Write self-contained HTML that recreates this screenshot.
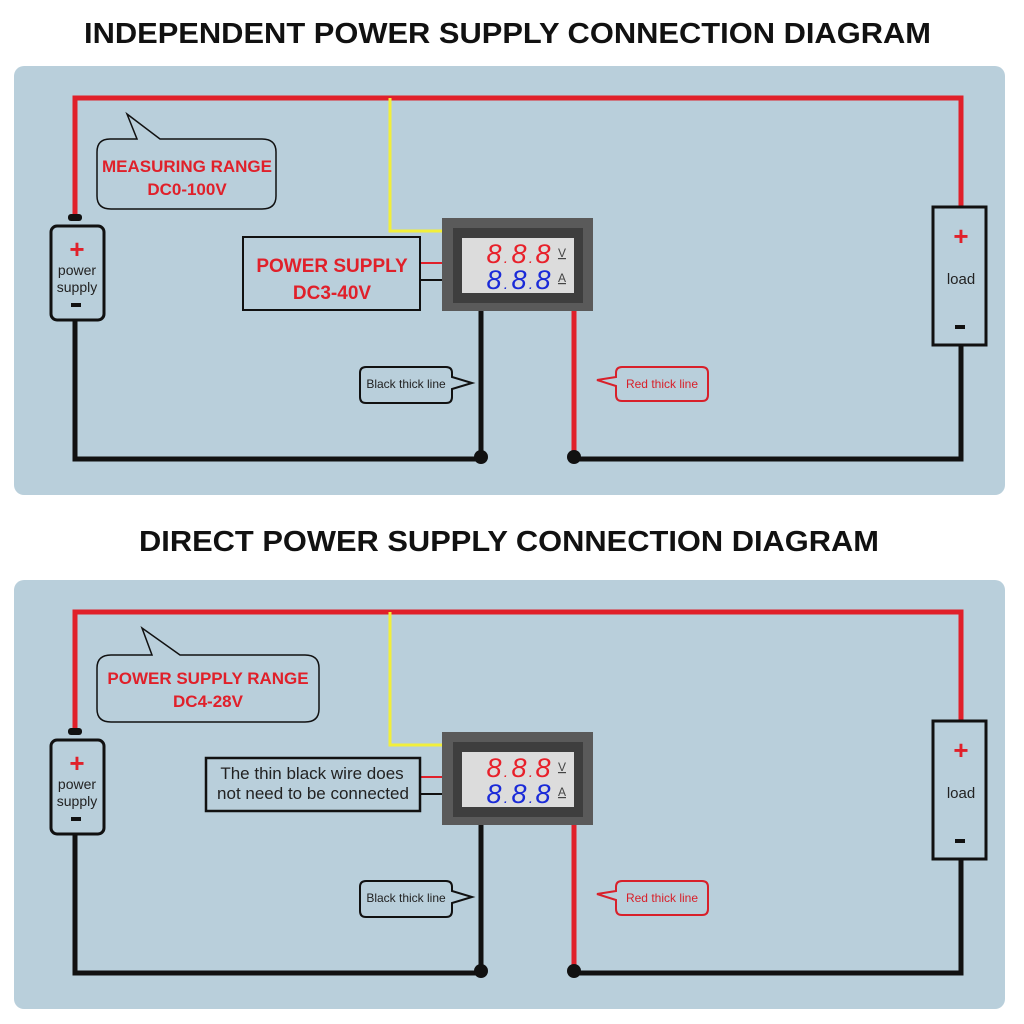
<!DOCTYPE html>
<html><head><meta charset="utf-8"><style>
html,body{margin:0;padding:0;background:#fff;}
svg{display:block;font-family:"Liberation Sans",Arial,sans-serif;}
</style></head><body>
<svg width="1024" height="1024" viewBox="0 0 1024 1024" xmlns="http://www.w3.org/2000/svg">
<defs>
<g id="panel">
  <rect x="14" y="66" width="991" height="429" rx="10" fill="#b9cfdb"/>
  <polyline points="75,218 75,98 961,98 961,207" fill="none" stroke="#e0202a" stroke-width="5"/>
  <polyline points="390,98 390,231 443,231" fill="none" stroke="#f2ef3a" stroke-width="3"/>
  <polyline points="75,321 75,459 481,459 481,311" fill="none" stroke="#111" stroke-width="5"/>
  <line x1="574" y1="311" x2="574" y2="457" stroke="#e0202a" stroke-width="5"/>
  <polyline points="574,459 961,459 961,345" fill="none" stroke="#111" stroke-width="5"/>
  <circle cx="481" cy="457" r="7" fill="#111"/>
  <circle cx="574" cy="457" r="7" fill="#111"/>
  <rect x="68" y="214" width="14" height="7" rx="3" fill="#111"/>
  <rect x="51" y="226" width="53" height="94" rx="6" fill="#b9cfdb" stroke="#111" stroke-width="3"/>
  <text x="77" y="258" font-size="26" font-weight="bold" fill="#e0202a" text-anchor="middle">+</text>
  <text x="77" y="275" font-size="14" fill="#222" text-anchor="middle">power</text>
  <text x="77" y="292" font-size="14" fill="#222" text-anchor="middle">supply</text>
  <rect x="71" y="303" width="10" height="4" fill="#111"/>
  <rect x="933" y="207" width="53" height="138" fill="#b9cfdb" stroke="#111" stroke-width="3"/>
  <text x="961" y="245" font-size="26" font-weight="bold" fill="#e0202a" text-anchor="middle">+</text>
  <text x="961" y="284" font-size="15" fill="#222" text-anchor="middle">load</text>
  <rect x="955" y="325" width="10" height="4" fill="#111"/>
  <line x1="420" y1="263" x2="443" y2="263" stroke="#e0202a" stroke-width="2"/>
  <line x1="420" y1="280" x2="443" y2="280" stroke="#111" stroke-width="2"/>
  <!-- meter -->
  <rect x="442" y="218" width="151" height="93" fill="#5a5a5a"/>
  <rect x="453" y="228" width="130" height="75" fill="#3e3e3e"/>
  <rect x="462" y="238" width="112" height="55" fill="#dcdcdc"/>
  <g font-size="27" font-style="italic" fill="#e8202a" text-anchor="middle">
    <text x="494" y="263">8</text><text x="519" y="263">8</text><text x="543" y="263">8</text>
    <text x="506" y="263" font-size="16">.</text><text x="531" y="263" font-size="16">.</text>
  </g>
  <g font-size="27" font-style="italic" fill="#1a2ad8" text-anchor="middle">
    <text x="494" y="289">8</text><text x="519" y="289">8</text><text x="543" y="289">8</text>
    <text x="506" y="289" font-size="16">.</text><text x="531" y="289" font-size="16">.</text>
  </g>
  <text x="562" y="257" font-size="12" fill="#444" text-anchor="middle" text-decoration="underline">V</text>
  <text x="562" y="282" font-size="12" fill="#444" text-anchor="middle" text-decoration="underline">A</text>
  <path d="M366,367 H446 Q452,367 452,373 V377 L472,383 L452,389 V397 Q452,403 446,403 H366 Q360,403 360,397 V373 Q360,367 366,367 Z" fill="#b9cfdb" stroke="#111" stroke-width="2"/>
  <text x="406" y="388" font-size="12" fill="#222" text-anchor="middle">Black thick line</text>
  <path d="M622,367 H702 Q708,367 708,373 V395 Q708,401 702,401 H622 Q616,401 616,395 V386 L597,380 L616,377 V373 Q616,367 622,367 Z" fill="#b9cfdb" stroke="#d8202a" stroke-width="2"/>
  <text x="662" y="388" font-size="12" fill="#d8202a" text-anchor="middle">Red thick line</text>
</g>
</defs>
<text x="84" y="43" font-size="29" font-weight="bold" fill="#111" textLength="847" lengthAdjust="spacingAndGlyphs">INDEPENDENT POWER SUPPLY CONNECTION DIAGRAM</text>
<text x="139" y="551" font-size="29" font-weight="bold" fill="#111" textLength="740" lengthAdjust="spacingAndGlyphs">DIRECT POWER SUPPLY CONNECTION DIAGRAM</text>

<use href="#panel"/>
<path d="M110,139 H137 L127,114 L160,139 H262 Q276,139 276,152 V196 Q276,209 262,209 H111 Q97,209 97,196 V152 Q97,139 110,139 Z" fill="#b9cfdb" stroke="#111" stroke-width="1.5"/>
<text x="187" y="172" font-size="17" font-weight="bold" fill="#e0202a" text-anchor="middle">MEASURING RANGE</text>
<text x="187" y="195" font-size="17" font-weight="bold" fill="#e0202a" text-anchor="middle">DC0-100V</text>
<rect x="243" y="237" width="177" height="73" fill="#b9cfdb" stroke="#111" stroke-width="2"/>
<text x="332" y="272" font-size="19" font-weight="bold" fill="#e0202a" text-anchor="middle">POWER SUPPLY</text>
<text x="332" y="299" font-size="19" font-weight="bold" fill="#e0202a" text-anchor="middle">DC3-40V</text>

<g transform="translate(0,514)"><use href="#panel"/></g>
<path d="M111,655 H152 L142,628 L180,655 H305 Q319,655 319,668 V709 Q319,722 305,722 H111 Q97,722 97,709 V668 Q97,655 111,655 Z" fill="#b9cfdb" stroke="#111" stroke-width="1.5"/>
<text x="208" y="684" font-size="17" font-weight="bold" fill="#e0202a" text-anchor="middle">POWER SUPPLY RANGE</text>
<text x="208" y="707" font-size="17" font-weight="bold" fill="#e0202a" text-anchor="middle">DC4-28V</text>
<rect x="206" y="758" width="214" height="53" fill="#b9cfdb" stroke="#111" stroke-width="2.5"/>
<text x="312" y="779" font-size="17" fill="#222" text-anchor="middle">The thin black wire does</text>
<text x="313" y="799" font-size="17" fill="#222" text-anchor="middle">not need to be connected</text>
</svg>
</body></html>
